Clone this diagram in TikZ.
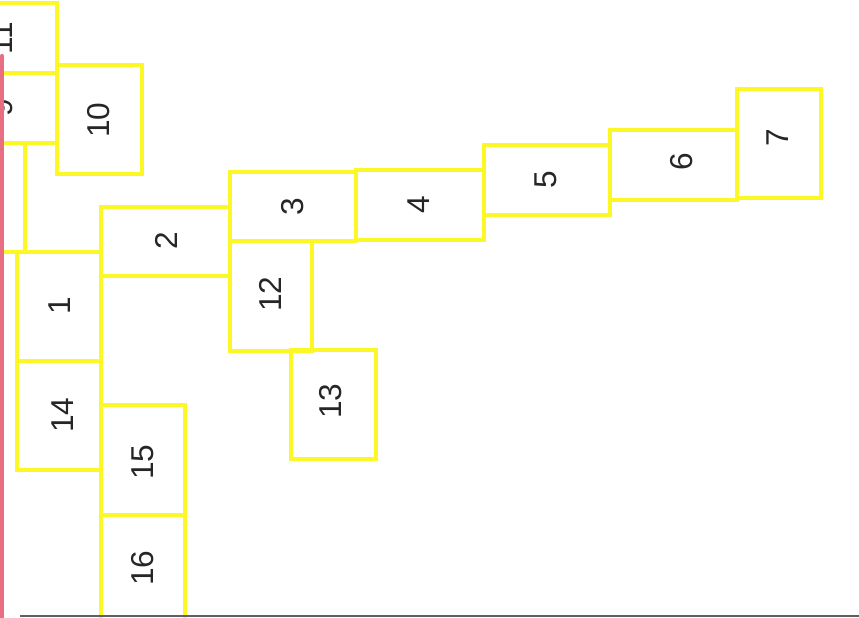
\documentclass[tikz,border=0pt]{standalone}
\usepackage{fontspec}
\setmainfont{Liberation Sans}
\definecolor{planyellow}{RGB}{252,248,40}
\definecolor{markred}{RGB}{232,110,130}
\definecolor{edgegray}{RGB}{95,95,95}
\tikzset{
  room/.style={draw=planyellow, line width=2.3pt},
  roomlabel/.style={rotate=90, inner sep=0pt, text=black!85,
    font=\fontsize{18}{18}\selectfont},
  redmark/.style={draw=markred, line width=2.4pt, line cap=round},
  scanedge/.style={draw=edgegray, line width=1.4pt}
}

\begin{document}
\begin{tikzpicture}[x=0.02cm, y=-0.02cm]
  \useasboundingbox (0,0) rectangle (859,618);
  \clip (0,0) rectangle (859,618);

  % Rooms, left column (cut off at the edge)
  \draw[room] (-30,3) rectangle (57,73);
  \node[roomlabel] (r11) at (2,38) {11};
  \draw[room] (-30,73) rectangle (57,143);
  \node[roomlabel] (r9) at (2,108) {9};
  \draw[room] (-30,143) rectangle (25,252);
  \draw[room] (57,65) rectangle (142,174);
  \node[roomlabel] (r10) at (99,120) {10};

  % Rooms along the left side
  \draw[room] (17,252) rectangle (101,361);
  \node[roomlabel] (r1) at (60,306) {1};
  \draw[room] (17,361) rectangle (101,470);
  \node[roomlabel] (r14) at (63,415) {14};
  \draw[room] (101,405) rectangle (185,515);
  \node[roomlabel] (r15) at (143,462) {15};
  \draw[room] (101,515) rectangle (185,640);
  \node[roomlabel] (r16) at (143,568) {16};

  % Row of rooms to the right
  \draw[room] (101,207) rectangle (230,276);
  \node[roomlabel] (r2) at (166,241) {2};
  \draw[room] (230,172) rectangle (356,241);
  \node[roomlabel] (r3) at (293,207) {3};
  \draw[room] (356,170) rectangle (484,240);
  \node[roomlabel] (r4) at (419,205) {4};
  \draw[room] (484,145) rectangle (610,215);
  \node[roomlabel] (r5) at (546,180) {5};
  \draw[room] (610,130) rectangle (737,200);
  \node[roomlabel] (r6) at (682,162) {6};
  \draw[room] (737,89) rectangle (821,198);
  \node[roomlabel] (r7) at (778,138) {7};

  % Rooms below 3
  \draw[room] (230,241) rectangle (312,351);
  \node[roomlabel] (r12) at (270,294) {12};
  \draw[room] (291,350) rectangle (376,459);
  \node[roomlabel] (r13) at (331,401) {13};

  % Red mark and scan edge
  \draw[redmark] (2,56) -- (2,630);
  \draw[scanedge] (20,616) -- (859,616);
\end{tikzpicture}
\end{document}
